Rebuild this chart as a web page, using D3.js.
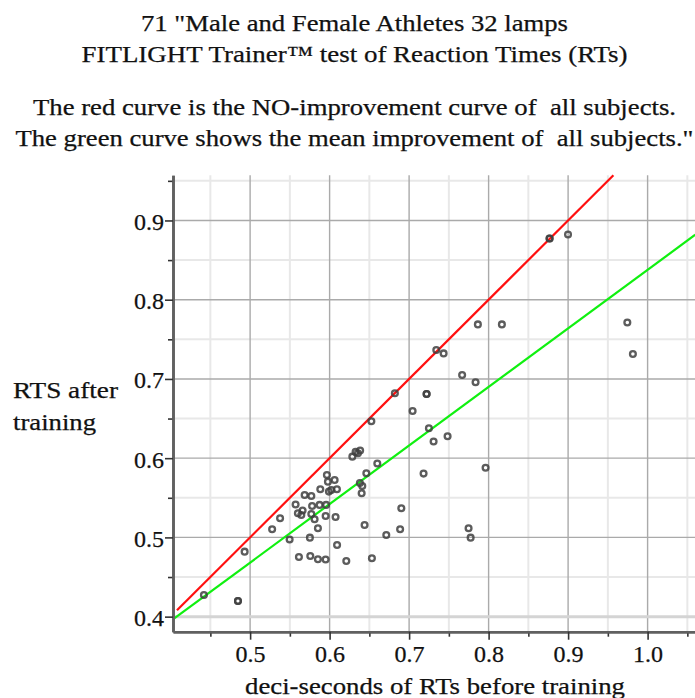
<!DOCTYPE html>
<html><head><meta charset="utf-8">
<script src="https://cdn.jsdelivr.net/npm/d3@7"></script>
<style>html,body{margin:0;padding:0;background:#fff;overflow:hidden}</style>
</head><body><svg id="c" width="695" height="698"></svg>
<script>
// ---------- data ----------
const titleLines = [
  '71 "Male and Female Athletes 32 lamps',
  'FITLIGHT Trainer\u2122 test of Reaction Times (RTs)',
  'The red curve is the NO-improvement curve of  all subjects.',
  'The green curve shows the mean improvement of  all subjects."'
];
const yLabelLines = ['RTS after', 'training'];
const xLabel = 'deci-seconds of RTs before training';

const beforeRT = [
  0.4419, 0.4847, 0.4847, 0.4931, 0.5277, 0.5377, 0.5497, 0.5614, 0.5572, 0.5601,
  0.5660, 0.5644, 0.5686, 0.5770, 0.5780, 0.5874, 0.5770, 0.5811, 0.5752, 0.5853,
  0.5757, 0.5853, 0.5950, 0.5956, 0.5950, 0.5966, 0.6063, 0.5979, 0.5883, 0.6021,
  0.6092, 0.5991, 0.6075, 0.6094, 0.6210, 0.6286, 0.6327, 0.6356, 0.6384, 0.6462,
  0.6381, 0.6411, 0.6403, 0.6440, 0.6532, 0.6525, 0.6600, 0.6821, 0.6713, 0.6902,
  0.6887, 0.7044, 0.7182, 0.7220, 0.7220, 0.7249, 0.7308, 0.7484, 0.7342, 0.7434,
  0.7667, 0.7836, 0.7865, 0.8167, 0.7962, 0.7748, 0.7774, 0.8767, 0.8767, 0.8999,
  0.9745, 0.9815
];
const afterRT = [
  0.4274, 0.4198, 0.4198, 0.4820, 0.5103, 0.5242, 0.4974, 0.4753, 0.5416, 0.5305,
  0.5340, 0.5283, 0.5536, 0.5523, 0.5397, 0.5410, 0.5296, 0.5229, 0.4997, 0.5116,
  0.4766, 0.4724, 0.4722, 0.5410, 0.5271, 0.5788, 0.5725, 0.5704, 0.5608, 0.5599,
  0.5608, 0.5578, 0.5258, 0.4905, 0.4703, 0.6019, 0.6079, 0.6062, 0.6097, 0.5810,
  0.5687, 0.5649, 0.5557, 0.5157, 0.4737, 0.6466, 0.5933, 0.6819, 0.5031, 0.5368,
  0.5103, 0.6596, 0.5805, 0.6810, 0.6810, 0.6378, 0.6211, 0.6277, 0.7366, 0.7322,
  0.7050, 0.6958, 0.7688, 0.7688, 0.5880, 0.5116, 0.4997, 0.8772, 0.8772, 0.8822,
  0.7713, 0.7315
];

const noImprovementX = [0.408, 0.957];
const noImprovementY = [0.408, 0.957];
const meanImprovementX = [0.405, 1.06];
const meanImprovementY = [0.398, 0.882];

const xTickValues = [0.5, 0.6, 0.7, 0.8, 0.9, 1.0];
const xTickLabels = ['0.5', '0.6', '0.7', '0.8', '0.9', '1.0'];
const xMinorTicks = [0.45, 0.55, 0.65, 0.75, 0.85, 0.95, 1.05];
const yTickValues = [0.4, 0.5, 0.6, 0.7, 0.8, 0.9];
const yTickLabels = ['0.4', '0.5', '0.6', '0.7', '0.8', '0.9'];
const yMinorTicks = [0.45, 0.55, 0.65, 0.75, 0.85, 0.95];

// ---------- layout ----------
const svg = d3.select('#c');
const L = 173, R = 695.3, T = 175.3, B = 631.7;
const x = d3.scaleLinear().domain([0.403, 1.06]).range([L, R]);
const y = d3.scaleLinear().domain([0.381, 0.957]).range([B, T]);
const serif = "'Liberation Serif','Times New Roman',serif";

svg.append('rect').attr('width', 695).attr('height', 698).attr('fill', '#fff');

svg.append('defs').append('clipPath').attr('id', 'plot')
  .append('rect').attr('x', L).attr('y', T - 2).attr('width', R - L).attr('height', B - T + 2);

// grid
const grid = svg.append('g').attr('clip-path', 'url(#plot)');
grid.selectAll('.vmin').data(xMinorTicks).join('line')
  .attr('x1', d => x(d)).attr('x2', d => x(d)).attr('y1', T).attr('y2', B)
  .attr('stroke', '#e8e8e8').attr('stroke-width', 2);
grid.selectAll('.hmin').data(yMinorTicks).join('line')
  .attr('y1', d => y(d)).attr('y2', d => y(d)).attr('x1', L).attr('x2', R)
  .attr('stroke', '#e8e8e8').attr('stroke-width', 2);
grid.selectAll('.vmaj').data(xTickValues).join('line')
  .attr('x1', d => x(d)).attr('x2', d => x(d)).attr('y1', T).attr('y2', B)
  .attr('stroke', '#aaaaaa').attr('stroke-width', 1.4);
grid.selectAll('.hmaj').data(yTickValues).join('line')
  .attr('y1', d => y(d)).attr('y2', d => y(d)).attr('x1', L).attr('x2', R)
  .attr('stroke', (d, i) => i === 0 ? '#d4d4d4' : '#aaaaaa')
  .attr('stroke-width', (d, i) => i === 0 ? 3 : 1.4);

// lines
const line = d3.line().x(d => x(d[0])).y(d => y(d[1]));
const plot = svg.append('g').attr('clip-path', 'url(#plot)');
plot.append('path').datum(d3.zip(noImprovementX, noImprovementY))
  .attr('d', line).attr('fill', 'none').attr('stroke', '#ff1010').attr('stroke-width', 2.2);
plot.append('path').datum(d3.zip(meanImprovementX, meanImprovementY))
  .attr('d', line).attr('fill', 'none').attr('stroke', '#10f010').attr('stroke-width', 2.2);

// points
plot.selectAll('circle').data(d3.zip(beforeRT, afterRT)).join('circle')
  .attr('cx', d => x(d[0])).attr('cy', d => y(d[1])).attr('r', 2.9)
  .attr('fill', 'none').attr('stroke', '#404040').attr('stroke-width', 2.3).attr('stroke-opacity', 0.85);

// axes
const xAxisMinor = d3.axisBottom(x).tickValues(xMinorTicks).tickSize(5).tickSizeOuter(0).tickFormat('');
const xAxis = d3.axisBottom(x).tickValues(xTickValues).tickSize(8).tickSizeOuter(0)
  .tickFormat((d, i) => xTickLabels[i]);
const yAxisMinor = d3.axisLeft(y).tickValues(yMinorTicks).tickSize(5).tickSizeOuter(0).tickFormat('');
const yAxis = d3.axisLeft(y).tickValues(yTickValues).tickSize(8).tickSizeOuter(0)
  .tickFormat((d, i) => yTickLabels[i]);

function styleAxis(g) {
  g.select('.domain').attr('stroke', '#606060').attr('stroke-width', 2.6);
  g.selectAll('.tick line').attr('stroke', '#333').attr('stroke-width', 1.6);
  g.selectAll('text').attr('font-family', serif).attr('font-size', 24).attr('fill', '#111')
    .attr('stroke', '#111').attr('stroke-width', 0.25);
}
svg.append('g').attr('transform', `translate(0,${B})`).call(xAxisMinor).call(styleAxis);
const gx = svg.append('g').attr('transform', `translate(0,${B})`).call(xAxis).call(styleAxis);
gx.selectAll('text').attr('y', 30).attr('dy', 0);
svg.append('g').attr('transform', `translate(${L},0)`).call(yAxisMinor).call(styleAxis);
const gy = svg.append('g').attr('transform', `translate(${L},0)`).call(yAxis).call(styleAxis);
gy.selectAll('text').attr('x', -9).attr('dy', 0).attr('y', 9);

// titles
const titleY = [30.7, 61.7, 115, 145.7];
const titleW = [427, 546, 643, 678];
svg.append('g').selectAll('text').data(titleLines).join('text')
  .attr('x', 354.5).attr('y', (d, i) => titleY[i])
  .attr('text-anchor', 'middle').attr('font-family', serif).attr('font-size', 23)
  .attr('fill', '#111').attr('stroke', '#111').attr('stroke-width', 0.25)
  .attr('textLength', (d, i) => titleW[i]).attr('lengthAdjust', 'spacingAndGlyphs')
  .attr('xml:space', 'preserve').style('white-space', 'pre')
  .text(d => d);

// y label
const yLabW = [105, 83];
svg.append('g').selectAll('text').data(yLabelLines).join('text')
  .attr('x', 13).attr('y', (d, i) => [398, 430][i])
  .attr('font-family', serif).attr('font-size', 24).attr('fill', '#111')
  .attr('stroke', '#111').attr('stroke-width', 0.25)
  .attr('textLength', (d, i) => yLabW[i]).attr('lengthAdjust', 'spacingAndGlyphs')
  .text(d => d);

// x label
svg.append('text').attr('x', 245).attr('y', 694)
  .attr('font-family', serif).attr('font-size', 24).attr('fill', '#111')
  .attr('stroke', '#111').attr('stroke-width', 0.25)
  .attr('textLength', 380).attr('lengthAdjust', 'spacingAndGlyphs')
  .text(xLabel);
</script></body></html>
